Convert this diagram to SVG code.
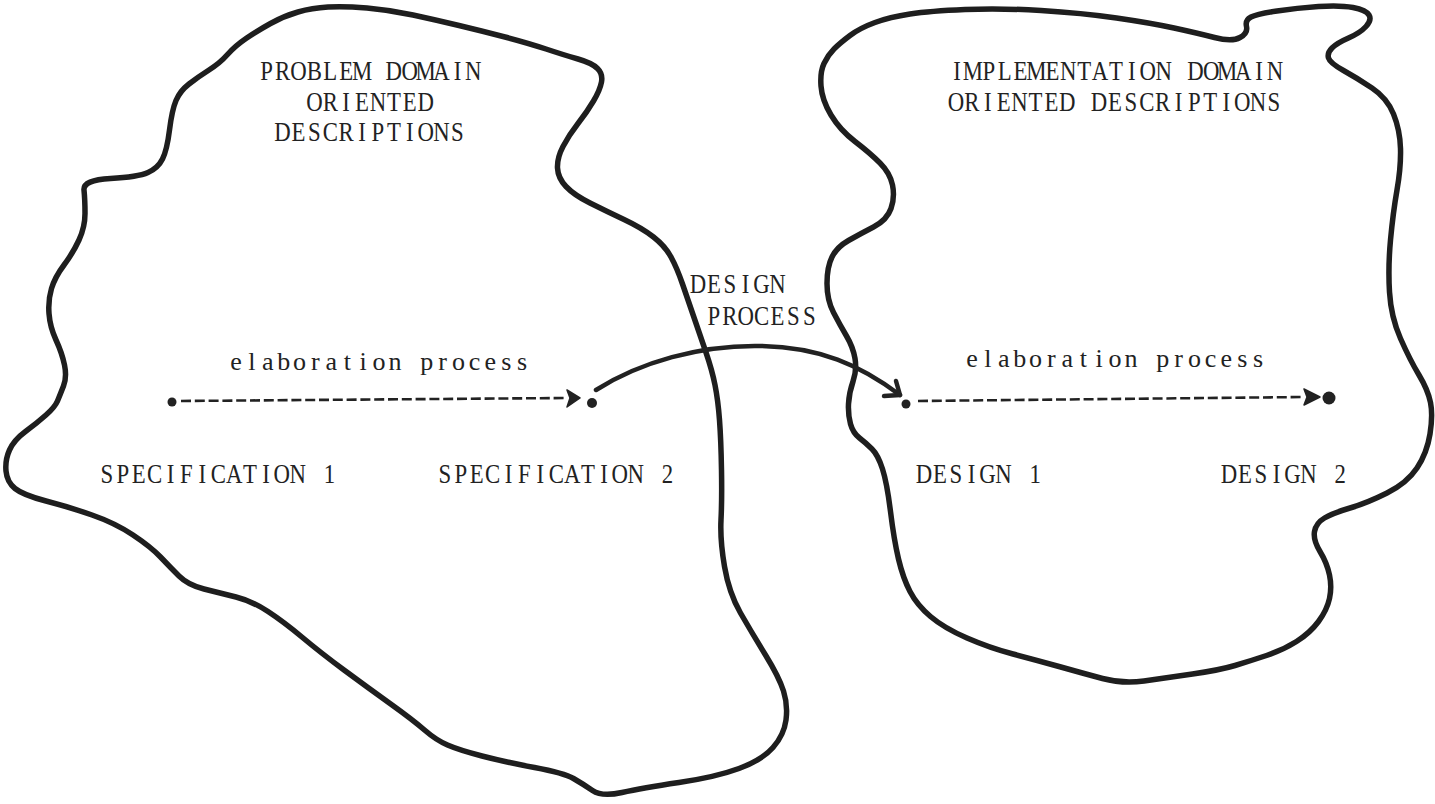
<svg xmlns="http://www.w3.org/2000/svg" width="1435" height="804" viewBox="0 0 1435 804">
  <style>
    .blob { fill: none; stroke: #1e1e1e; stroke-width: 5.5; stroke-linejoin: round; stroke-linecap: round; }
    /* typewriter pitch: one glyph per fixed cell */
    .label { font-family: "Liberation Serif", "DejaVu Serif", serif; font-size: 26.5px; fill: #222; text-anchor: middle; }
    .small { font-size: 26px; }
    .dash { fill: none; stroke: #222; stroke-width: 2.6; stroke-dasharray: 10 3.8; }
    .curve { fill: none; stroke: #222; stroke-width: 4.5; stroke-linecap: round; stroke-linejoin: round; }
    .dot { fill: #222; }
    .head { fill: #222; stroke: #222; stroke-width: 1.5; stroke-linejoin: round; }
  </style>
  <rect width="1435" height="804" fill="#ffffff"/>

  <!-- left region: problem domain -->
  <g id="problem-domain">
    <path class="blob" d="M 84 190 Q 83 180 110.5 178.5 Q 138 177 148 172.5 Q 158 168 162.5 159 Q 167 150 169.5 130 Q 172 110 176 100.5 Q 180 91 189 84 Q 198 77 209 70 Q 220 63 227.5 54.5 Q 235 46 246 38.5 Q 257 31 270.5 23.5 Q 284 16 298 12 Q 312 8 328 7 Q 344 6 367 8 Q 390 10 413 15 Q 436 20 459 25.5 Q 482 31 505 37 Q 528 43 546 49 Q 564 55 578 59 Q 592 63 597.5 68.5 Q 603 74 601.5 82 Q 600 90 593.5 101 Q 587 112 578 123.5 Q 569 135 563 146.5 Q 557 158 557.5 168 Q 558 178 566 186.5 Q 574 195 590 203 Q 606 211 624 219.5 Q 642 228 653.5 237 Q 665 246 671 257 Q 677 268 682.5 284 Q 688 300 694 317.5 Q 700 335 706 352.5 Q 712 370 715 385 Q 718 400 719.5 420 Q 721 440 721.5 470 Q 722 500 721 520 Q 720 540 724.5 566.5 Q 729 593 740.5 613 Q 752 633 765.5 655 Q 779 677 783.5 691 Q 788 705 786 720 Q 784 735 773 747.5 Q 762 760 739 768.5 Q 716 777 679 782.5 Q 642 788 622 792.5 Q 602 797 592.5 790.5 Q 583 784 573.5 778.5 Q 564 773 534.5 767.5 Q 505 762 482 756 Q 459 750 447.5 745 Q 436 740 424.5 730 Q 413 720 390 703.5 Q 367 687 344 670 Q 321 653 302.5 637.5 Q 284 622 268 611.5 Q 252 601 236 597 Q 220 593 204 589 Q 188 585 179 576 Q 170 567 160.5 557 Q 151 547 133 535 Q 115 523 92 515 Q 69 507 46 501 Q 23 495 15 488.5 Q 7 482 6 471 Q 5 460 9.5 450 Q 14 440 25.5 431.5 Q 37 423 46 415 Q 55 407 57.5 401 Q 60 395 63.5 386 Q 67 377 64.5 365 Q 62 353 56 340 Q 50 327 49 313.5 Q 48 300 51.5 288.5 Q 55 277 64 265 Q 73 253 79 240 Q 85 227 85 213.5 Q 85 200 84 190 Z"/>
    <text class="label" transform="translate(258.7 80) scale(0.86 1)" x="9.24 27.73 46.22 64.71 83.2 101.68 120.17 138.66 157.15 175.64 194.12 212.61 231.1 249.59">PROBLEM DOMAIN</text>
    <text class="label" transform="translate(306.4 111) scale(0.86 1)" x="9.24 27.73 46.22 64.71 83.2 101.68 120.17 138.66">ORIENTED</text>
    <text class="label" transform="translate(274.6 141) scale(0.86 1)" x="9.24 27.73 46.22 64.71 83.2 101.68 120.17 138.66 157.15 175.64 194.12 212.61">DESCRIPTIONS</text>
  </g>

  <!-- right region: implementation domain -->
  <g id="implementation-domain">
    <path class="blob" d="M 821 86 Q 820 72 824 63.5 Q 828 55 834 49 Q 840 43 850 35.5 Q 860 28 875 22.5 Q 890 17 910 14 Q 930 11 965 9.5 Q 1000 8 1041 10.5 Q 1082 13 1116.5 18 Q 1151 23 1174 28 Q 1197 33 1214.5 37.5 Q 1232 42 1240 37.5 Q 1248 33 1246.5 26.5 Q 1245 20 1251 17 Q 1257 14 1277 11 Q 1297 8 1318.5 6.5 Q 1340 5 1353 7.5 Q 1366 10 1369 15 Q 1372 20 1366 26.5 Q 1360 33 1348.5 38 Q 1337 43 1332 48 Q 1327 53 1328.5 58 Q 1330 63 1343.5 70.5 Q 1357 78 1372 88 Q 1387 98 1393.5 114 Q 1400 130 1400.5 148.5 Q 1401 167 1397 190 Q 1393 213 1390.5 240 Q 1388 267 1389.5 292 Q 1391 317 1400.5 338.5 Q 1410 360 1419 375 Q 1428 390 1430.5 402.5 Q 1433 415 1430 434 Q 1427 453 1417 468 Q 1407 483 1387 493 Q 1367 503 1350 508 Q 1333 513 1324.5 518 Q 1316 523 1314.5 531.5 Q 1313 540 1320 551.5 Q 1327 563 1329.5 575 Q 1332 587 1329.5 598.5 Q 1327 610 1318.5 621.5 Q 1310 633 1296.5 641.5 Q 1283 650 1266.5 655.5 Q 1250 661 1235 665.5 Q 1220 670 1192.5 674 Q 1165 678 1144 681 Q 1123 684 1102.5 678.5 Q 1082 673 1059 666.5 Q 1036 660 1013 654 Q 990 648 967 638 Q 944 628 930.5 616.5 Q 917 605 910 591.5 Q 903 578 898.5 559 Q 894 540 890.5 511.5 Q 887 483 882.5 469 Q 878 455 872 449 Q 866 443 859.5 438 Q 853 433 850.5 424 Q 848 415 848.5 404 Q 849 393 853 381.5 Q 857 370 855 358.5 Q 853 347 846.5 336 Q 840 325 833.5 312.5 Q 827 300 827 283.5 Q 827 267 832 257 Q 837 247 848.5 240.5 Q 860 234 873.5 227 Q 887 220 891 208.5 Q 895 197 892.5 185 Q 890 173 880 163 Q 870 153 855 141.5 Q 840 130 831 115 Q 822 100 821 86 Z"/>
    <text class="label" transform="translate(949 80) scale(0.86 1)" x="9.24 27.73 46.22 64.71 83.2 101.68 120.17 138.66 157.15 175.64 194.12 212.61 231.1 249.59 268.08 286.57 305.05 323.54 342.03 360.52 379">IMPLEMENTATION DOMAIN</text>
    <text class="label" transform="translate(948 111) scale(0.86 1)" x="9.24 27.73 46.22 64.71 83.2 101.68 120.17 138.66 157.15 175.64 194.12 212.61 231.1 249.59 268.08 286.57 305.05 323.54 342.03 360.52 379">ORIENTED DESCRIPTIONS</text>
  </g>

  <!-- description points -->
  <g id="specification-1">
    <circle class="dot" cx="172" cy="402" r="4.5"/>
    <text class="label" transform="translate(99 483) scale(0.86 1)" x="9.24 27.73 46.22 64.71 83.2 101.68 120.17 138.66 157.15 175.64 194.12 212.61 231.1 249.59 268.08">SPECIFICATION 1</text>
  </g>
  <g id="specification-2">
    <circle class="dot" cx="592" cy="403" r="5"/>
    <text class="label" transform="translate(437 483) scale(0.86 1)" x="9.24 27.73 46.22 64.71 83.2 101.68 120.17 138.66 157.15 175.64 194.12 212.61 231.1 249.59 268.08">SPECIFICATION 2</text>
  </g>
  <g id="design-1">
    <circle class="dot" cx="906" cy="404" r="4.5"/>
    <text class="label" transform="translate(916 483) scale(0.86 1)" x="9.24 27.73 46.22 64.71 83.2 101.68 120.17 138.66">DESIGN 1</text>
  </g>
  <g id="design-2">
    <circle class="dot" cx="1329" cy="398" r="6.5"/>
    <text class="label" transform="translate(1221 483) scale(0.86 1)" x="9.24 27.73 46.22 64.71 83.2 101.68 120.17 138.66">DESIGN 2</text>
  </g>

  <!-- processes between descriptions -->
  <g id="connectors">
    <path class="dash" d="M 181 401 L 566 398"/>
    <path class="head" d="M 567 390 L 580 398 L 567 407 L 570 398 Z"/>
    <text class="label small" transform="translate(228 370)" x="7.95 23.85 39.75 55.65 71.55 87.45 103.35 119.25 135.15 151.05 166.95 182.85 198.75 214.65 230.55 246.45 262.35 278.25 294.15">elaboration process</text>

    <path class="dash" d="M 918 401 L 1304 397"/>
    <path class="head" d="M 1304 389 L 1320 397 L 1304 405 L 1307 397 Z"/>
    <text class="label small" transform="translate(964 367)" x="7.95 23.85 39.75 55.65 71.55 87.45 103.35 119.25 135.15 151.05 166.95 182.85 198.75 214.65 230.55 246.45 262.35 278.25 294.15">elaboration process</text>

    <path class="curve" d="M 596 390 C 640 362, 700 345, 760 346 C 820 347, 860 365, 900 395"/>
    <path class="curve" d="M 896 381 L 900 395 L 884 396" stroke-width="3.5"/>
    <text class="label" transform="translate(690 293) scale(0.86 1)" x="9.24 27.73 46.22 64.71 83.2 101.68">DESIGN</text>
    <text class="label" transform="translate(706 325) scale(0.86 1)" x="9.24 27.73 46.22 64.71 83.2 101.68 120.17">PROCESS</text>
  </g>
</svg>
